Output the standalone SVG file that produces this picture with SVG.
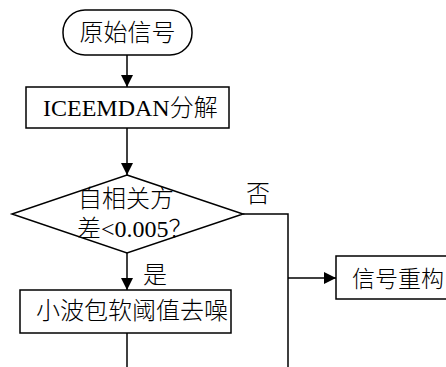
<svg xmlns="http://www.w3.org/2000/svg" width="446" height="367" viewBox="0 0 446 367">
<style>
.shape{fill:#fff;stroke:#000;stroke-width:1.5}
.line{fill:none;stroke:#000;stroke-width:1.5}
.t{font-family:"Liberation Serif","Noto Sans CJK SC",serif;font-size:24px;font-weight:300;fill:#000}
</style>
<defs>
<marker id="arr" markerUnits="userSpaceOnUse" markerWidth="12" markerHeight="12" viewBox="0 0 12 12" refX="12" refY="6" orient="auto">
<path d="M0,0 L12,6 L0,12 Z" fill="#000"/>
</marker>
</defs>
<rect width="446" height="367" fill="#fff"/>
<g id="connectors">
<line class="line" x1="127" y1="55" x2="127" y2="87" marker-end="url(#arr)"/>
<line class="line" x1="127" y1="128" x2="127" y2="175" marker-end="url(#arr)"/>
<line class="line" x1="127" y1="253" x2="127" y2="290" marker-end="url(#arr)"/>
<polyline class="line" points="243,214 288,214 288,367"/>
<line class="line" x1="288" y1="278" x2="336" y2="278" marker-end="url(#arr)"/>
<line class="line" x1="127" y1="333" x2="127" y2="367"/>
<text class="t" x="155" y="283" text-anchor="middle">是</text>
<text class="t" x="258" y="202" text-anchor="middle">否</text>
</g>
<g id="start">
<rect class="shape" x="63" y="10" width="129" height="45" rx="22" ry="22"/>
<text class="t" x="127.5" y="41" text-anchor="middle">原始信号</text>
</g>
<g id="decompose">
<rect class="shape" x="26" y="87" width="203" height="41"/>
<text class="t" x="43" y="116">ICEEMDAN分解</text>
</g>
<g id="decision">
<polygon class="shape" points="127,175 243,214 127,253 12,214"/>
<text class="t" x="78" y="207">自相关方</text>
<text class="t" x="77" y="237">差&lt;0.005？</text>
</g>
<g id="denoise">
<rect class="shape" x="20" y="290" width="211" height="43"/>
<text class="t" x="36" y="319">小波包软阈值去噪</text>
</g>
<g id="reconstruct">
<rect class="shape" x="336" y="256" width="120" height="43"/>
<text class="t" x="352" y="287" style="font-size:23px">信号重构</text>
</g>
</svg>
